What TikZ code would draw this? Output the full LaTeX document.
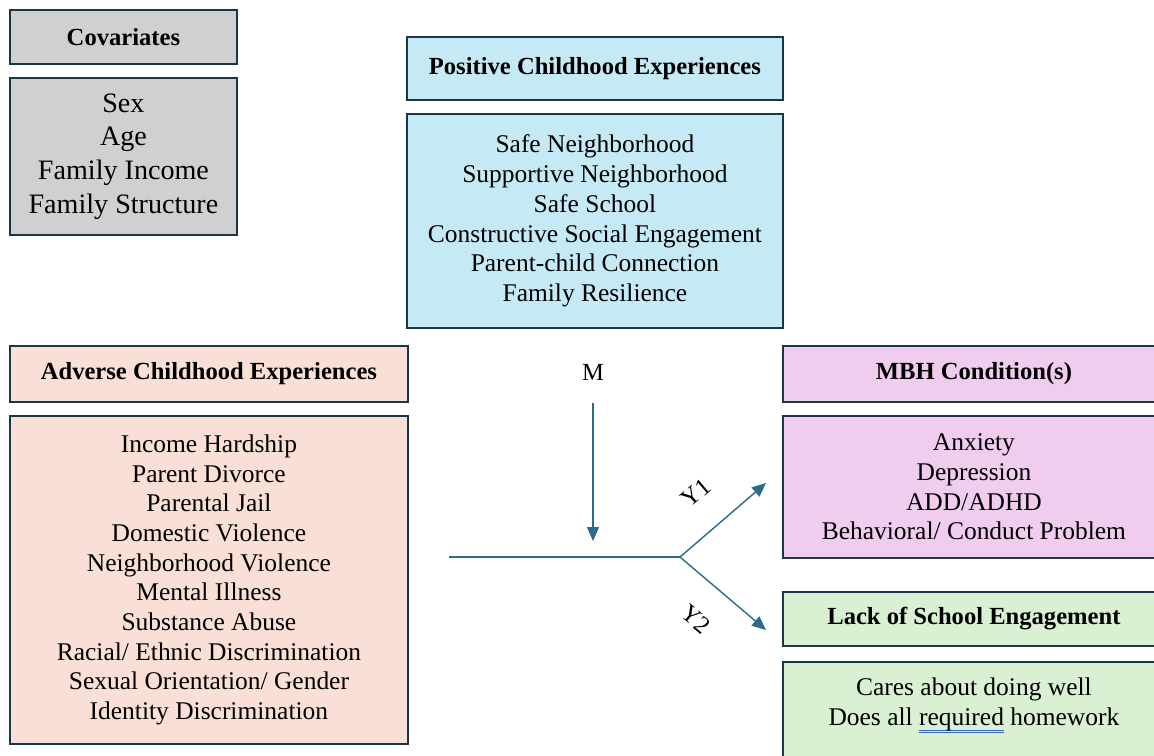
\documentclass[tikz,border=0pt]{standalone}
\usepackage{fontspec}
\setmainfont{Liberation Serif}
\usetikzlibrary{arrows.meta}

\definecolor{boxline}{HTML}{1B3644}
\definecolor{flow}{HTML}{2B6C8A}
\definecolor{covfill}{HTML}{D0D0D0}
\definecolor{pcefill}{HTML}{C6EAF5}
\definecolor{acefill}{HTML}{F9DFD5}
\definecolor{mbhfill}{HTML}{F0CDEE}
\definecolor{lsefill}{HTML}{D9F0D2}
\definecolor{spellblue}{HTML}{3366D6}

% blue spell-check mark under a word
\newsavebox{\spellbox}
\newcommand{\spellmark}[1]{\sbox{\spellbox}{#1}\rlap{\textcolor{spellblue}{\rule[-3.2pt]{\wd\spellbox}{0.5pt}}}\rlap{\textcolor{spellblue}{\rule[-4.4pt]{\wd\spellbox}{0.5pt}}}\usebox{\spellbox}}

\begin{document}
\begin{tikzpicture}[x=0.02cm, y=-0.02cm, >={Triangle[length=0.28cm, width=0.24cm]},
  head/.style={draw=boxline, line width=1.1pt, anchor=north west, inner sep=0pt,
    align=center, font=\bfseries\fontsize{14}{17}\selectfont},
  body/.style={draw=boxline, line width=1.1pt, anchor=north west, inner sep=0pt,
    align=center, font=\fontsize{14.5}{16.9}\selectfont},
  link/.style={draw=flow, line width=0.8pt},
  tag/.style={font=\fontsize{14}{17}\selectfont, inner sep=0pt}]
\useasboundingbox (0,0) rectangle (1154,755);
\clip (0,0) rectangle (1154,755);

% covariates
\node[head, fill=covfill, minimum width=4.54cm, minimum height=1.08cm] (covhead) at (9,9) {Covariates};
\node[body, fill=covfill, minimum width=4.54cm, minimum height=3.14cm,
  font=\fontsize{16}{19.2}\selectfont] (covbody) at (9,77) {Sex\\Age\\Family Income\\Family Structure};

% positive experiences
\node[head, fill=pcefill, minimum width=7.52cm, minimum height=1.26cm] (pcehead) at (406,36) {Positive Childhood Experiences};
\node[body, fill=pcefill, minimum width=7.52cm, minimum height=4.28cm] (pcebody) at (406,113)
  {Safe Neighborhood\\Supportive Neighborhood\\Safe School\\Constructive Social Engagement\\Parent-child Connection\\Family Resilience};

% adverse experiences
\node[head, fill=acefill, minimum width=7.96cm, minimum height=1.12cm] (acehead) at (9,345) {Adverse Childhood Experiences};
\node[body, fill=acefill, minimum width=7.96cm, minimum height=6.56cm] (acebody) at (9,415)
  {Income Hardship\\Parent Divorce\\Parental Jail\\Domestic Violence\\Neighborhood Violence\\Mental Illness\\Substance Abuse\\Racial/ Ethnic Discrimination\\Sexual Orientation/ Gender\\Identity Discrimination};

% outcomes
\node[head, fill=mbhfill, minimum width=7.64cm, minimum height=1.12cm] (mbhhead) at (782,345) {MBH Condition(s)};
\node[body, fill=mbhfill, minimum width=7.64cm, minimum height=2.84cm] (mbhbody) at (782,415)
  {Anxiety\\Depression\\ADD/ADHD\\Behavioral/ Conduct Problem};
\node[head, fill=lsefill, minimum width=7.64cm, minimum height=1.08cm] (lsehead) at (782,591) {Lack of School Engagement};
\node[body, fill=lsefill, minimum width=7.64cm, inner ysep=0.32cm, text depth=2cm] (lsebody) at (782,661)
  {Cares about doing well\\Does all \spellmark{required}\ homework};

% paths
\node[tag] (mtag) at (593,372) {M};
\coordinate (mtop) at (593,403);
\coordinate (mtip) at (593,541);
\coordinate (start) at (449,557);
\coordinate (fork) at (680,557);
\coordinate (y1tip) at (766,483);
\coordinate (y2tip) at (766,630);
\draw[link] (start) -- (fork);
\draw[link, ->, fill=flow] (mtop) -- (mtip);
\draw[link, ->, fill=flow] (fork) -- (y1tip);
\draw[link, ->, fill=flow] (fork) -- (y2tip);
\node[tag, rotate=40] (y1tag) at (696,493) {Y1};
\node[tag, rotate=-40] (y2tag) at (696,619) {Y2};
\end{tikzpicture}
\end{document}
